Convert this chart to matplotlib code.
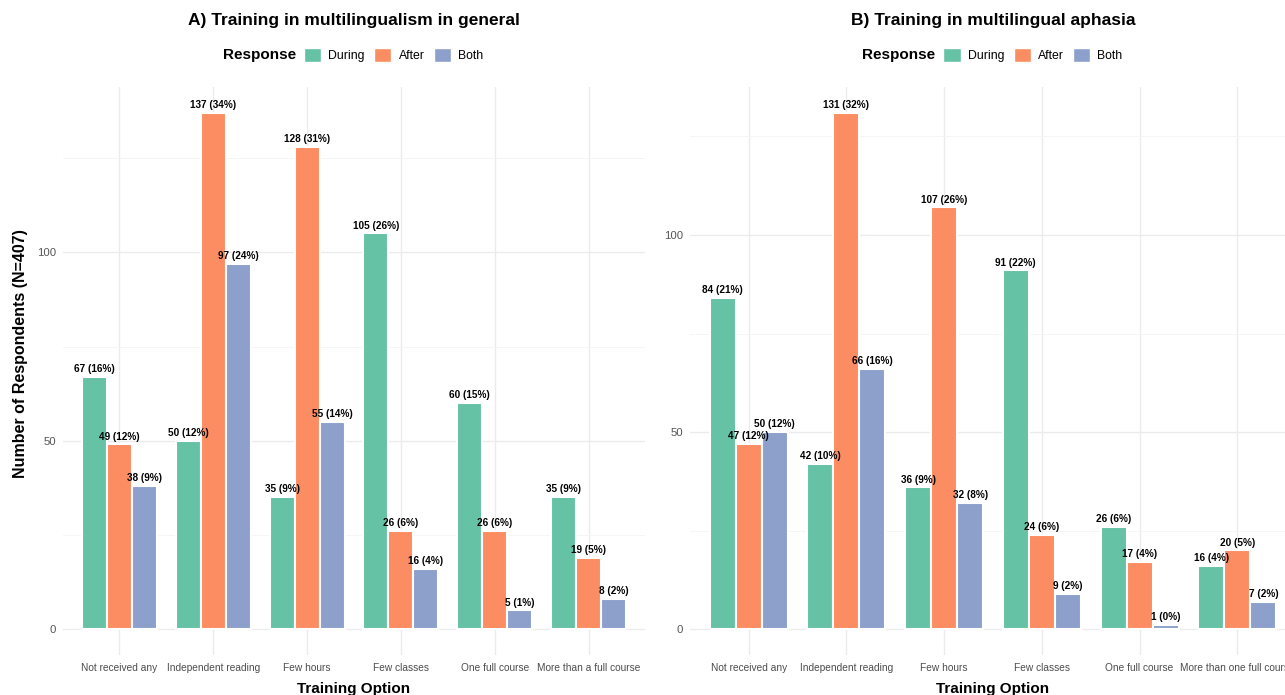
import matplotlib
matplotlib.use("Agg")
from matplotlib import pyplot as plt
from matplotlib.patches import Patch
import numpy as np

plt.rcParams['font.family'] = ['Liberation Sans', 'DejaVu Sans']

N = 407
responses = ["During", "After", "Both"]
colors = ["#66C2A5", "#FC8D62", "#8DA0CB"]

options_a = ["Not received any", "Independent reading", "Few hours", "Few classes",
             "One full course", "More than a full course"]
during_a = [67, 50, 35, 105, 60, 35]
after_a = [49, 137, 128, 26, 26, 19]
both_a = [38, 97, 55, 16, 5, 8]

options_b = ["Not received any", "Independent reading", "Few hours", "Few classes",
             "One full course", "More than one full course"]
during_b = [84, 42, 36, 91, 26, 16]
after_b = [47, 131, 107, 24, 17, 20]
both_b = [50, 66, 32, 9, 1, 7]

fig = plt.figure(figsize=(12.85, 6.95), dpi=100)
W, H = 1285, 695


def panel(rect, title, options, series, leg_x, resp_x, ylabel=None):
    ax = fig.add_axes(rect)
    x = np.arange(len(options))
    w = 0.8 / 3
    top = max(max(s) for s in series)
    for i, (vals, c) in enumerate(zip(series, colors)):
        bars = ax.bar(x + (i - 1) * w, vals, w, color=c, edgecolor="white", linewidth=1.5, zorder=2)
        labels = [f"{v} ({int(v / N * 100 + 0.5)}%)" for v in vals]
        ax.bar_label(bars, labels=labels, padding=2, fontsize=7.2, fontweight="bold", zorder=3)
    ax.set_xlim(-0.6, len(options) - 0.4)
    ax.set_ylim(-0.05 * top, 1.05 * top)
    ax.set_xticks(x, options)
    ax.set_yticks([0, 50, 100])
    ax.set_yticks([25, 75, 125], minor=True)
    ax.grid(True, which="major", color="#EBEBEB", linewidth=1.0, zorder=0)
    ax.grid(True, which="minor", axis="y", color="#F4F4F4", linewidth=0.6, zorder=0)
    ax.set_axisbelow(True)
    for s in ax.spines.values():
        s.set_visible(False)
    ax.tick_params(which="both", length=0)
    ax.tick_params(axis="x", labelsize=7.3, labelcolor="#4D4D4D", pad=6)
    ax.tick_params(axis="y", labelsize=8.2, labelcolor="#555555", pad=5)
    ax.set_xlabel("Training Option", fontsize=11, fontweight="bold", labelpad=6)
    if ylabel:
        ax.set_ylabel(ylabel, fontsize=11.5, fontweight="bold", labelpad=4)
        ax.yaxis.set_label_coords(-0.06, 0.53)
    fig.text(rect[0] + rect[2] / 2, 1 - 20 / H, title, ha="center", va="center",
             fontsize=12.5, fontweight="bold")
    handles = [Patch(facecolor=c, edgecolor="white") for c in colors]
    fig.legend(handles, responses, loc="center", bbox_to_anchor=(leg_x / W, 1 - 55 / H),
               ncol=3, frameon=False, fontsize=8.8, handlelength=1.4, handleheight=1.4,
               handletextpad=0.6, columnspacing=0.75, borderpad=0)
    fig.text(resp_x / W, 1 - 55 / H, "Response", ha="right", va="center",
             fontsize=11, fontweight="bold")
    return ax


bottom = 1 - 655 / H
height = (655 - 87) / H
panel([63 / W, bottom, 582 / W, height], "A) Training in multilingualism in general",
      options_a, [during_a, after_a, both_a], 393.5, 296, "Number of Respondents (N=407)")
panel([690 / W, bottom, 606 / W, height], "B) Training in multilingual aphasia",
      options_b, [during_b, after_b, both_b], 1033, 935)

fig.savefig("out.png", dpi=100)
